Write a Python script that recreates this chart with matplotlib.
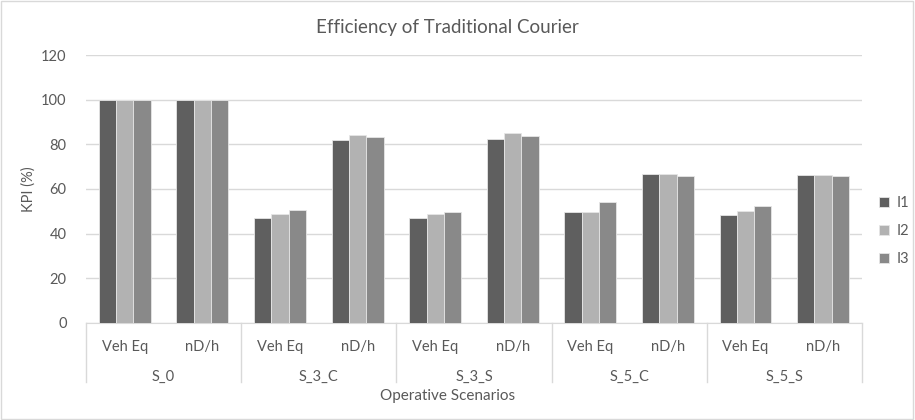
import numpy as np
import matplotlib.pyplot as plt
import matplotlib.transforms as mtransforms

plt.rcParams['font.family'] = ['Lato', 'DejaVu Sans']

scenarios = ['S_0', 'S_3_C', 'S_3_S', 'S_5_C', 'S_5_S']
kpis = ['Veh Eq', 'nD/h']
series = ['I1', 'I2', 'I3']

# values per scenario: Veh Eq, nD/h
i1 = [100, 100, 47.0, 81.8, 47.0, 82.6, 49.8, 66.7, 48.3, 66.2]
i2 = [100, 100, 49.0, 84.2, 48.8, 85.0, 49.5, 66.7, 50.2, 66.2]
i3 = [100, 100, 50.8, 83.3, 49.6, 83.9, 54.1, 65.6, 52.3, 65.9]
colors = ['#5f5f5f', '#b2b2b2', '#898989']

txt = '#595959'
fig = plt.figure(figsize=(9.15, 4.2), dpi=100)
ax = fig.add_axes([0.094, 0.231, 0.848, 0.638])

x = np.arange(len(i1))
w = 0.223
for k, vals in enumerate([i1, i2, i3]):
    ax.bar(x + (k - 1) * w, vals, w, color=colors[k], edgecolor='#e6e6e6',
           linewidth=0.6, label=series[k], zorder=3)

ax.set_ylim(0, 120)
ax.set_xlim(-0.5, len(i1) - 0.5)
ax.set_yticks(range(0, 121, 20))
ax.yaxis.grid(True, color='#d9d9d9', linewidth=1, zorder=0)
ax.tick_params(axis='y', length=0, labelsize=10.5, colors=txt, pad=14)
ax.set_xticks([])
for s in ['top', 'right', 'left']:
    ax.spines[s].set_visible(False)
ax.spines['bottom'].set_color('#d9d9d9')

trans = mtransforms.blended_transform_factory(ax.transData, ax.transAxes)
for i in range(len(i1)):
    ax.text(x[i], -0.09, kpis[i % 2], transform=trans, ha='center',
            va='center', fontsize=10.5, color=txt)
for g, name in enumerate(scenarios):
    ax.text(2 * g + 0.5, -0.2, name, transform=trans, ha='center',
            va='center', fontsize=10.5, color=txt)
for b in np.arange(-0.5, len(i1), 2):
    ax.plot([b, b], [0, -0.22], transform=trans, color='#d9d9d9',
            linewidth=1, clip_on=False)

ax.set_ylabel('KPI (%)', fontsize=10.5, color=txt)
ax.yaxis.set_label_coords(-0.065, 0.5)
fig.text(0.489, 0.057, 'Operative Scenarios', ha='center', va='center',
         fontsize=11, color=txt)
fig.text(0.489, 0.935, 'Efficiency of Traditional Courier', ha='center',
         va='center', fontsize=13.5, color=txt)

ax.legend(loc='center left', bbox_to_anchor=(1.005, 0.343), frameon=False,
          fontsize=10.5, labelcolor=txt, handlelength=0.7, handleheight=0.7,
          labelspacing=0.95, handletextpad=0.5)

fig.patches.append(plt.Rectangle((0.001, 0.002), 0.997, 0.995,
                                 transform=fig.transFigure, fill=False,
                                 edgecolor='#d9d9d9', linewidth=1))
fig.savefig('out.png', dpi=100)
